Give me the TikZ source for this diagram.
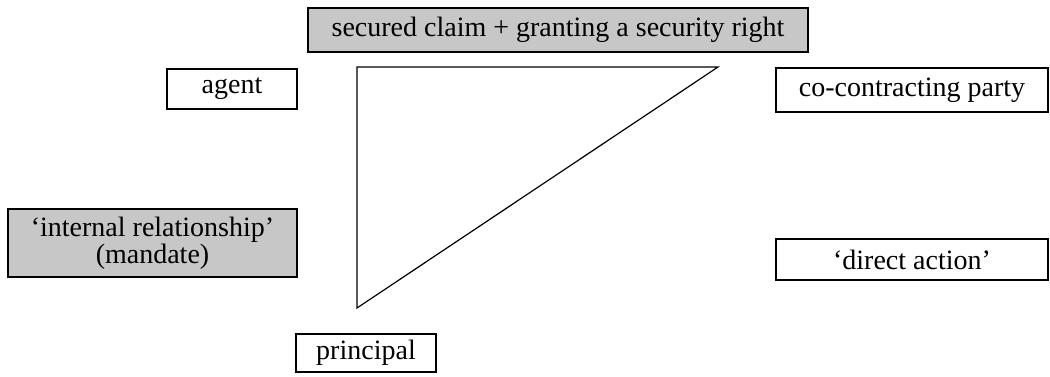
\documentclass[tikz,border=0pt]{standalone}
\usepackage{fontspec}
\setmainfont{Liberation Serif}
\begin{document}
\begin{tikzpicture}[x=0.5pt,y=-0.5pt,
  box/.style={draw=black,line width=0.6pt,fill=white,inner sep=0pt,align=center,font=\fontsize{14}{13.5}\selectfont},
  greybox/.style={box,fill=black!22},
  tri/.style={draw=black,line width=0.6pt}]
\useasboundingbox (0,0) rectangle (1050,376);
\node[greybox,minimum width=250pt,minimum height=22pt] (claim) at (558,30) {secured claim + granting a security right};
\node[box,minimum width=65pt,minimum height=20pt] (agent) at (232,89) {agent};
\node[box,minimum width=136pt,minimum height=22pt] (co) at (912,90) {co-contracting party};
\node[greybox,minimum width=144.5pt,minimum height=34pt] (internal) at (152.5,243) {‘internal relationship’\\(mandate)};
\node[box,minimum width=136pt,minimum height=20.5pt] (direct) at (912,259.5) {‘direct action’};
\node[box,minimum width=70pt,minimum height=19pt] (principal) at (366,353) {principal};
\coordinate (ta) at (357,67);
\coordinate (tb) at (718,67);
\coordinate (tc) at (357,308);
\draw[tri] (ta) -- (tb) -- (tc) -- cycle;
\end{tikzpicture}
\end{document}
